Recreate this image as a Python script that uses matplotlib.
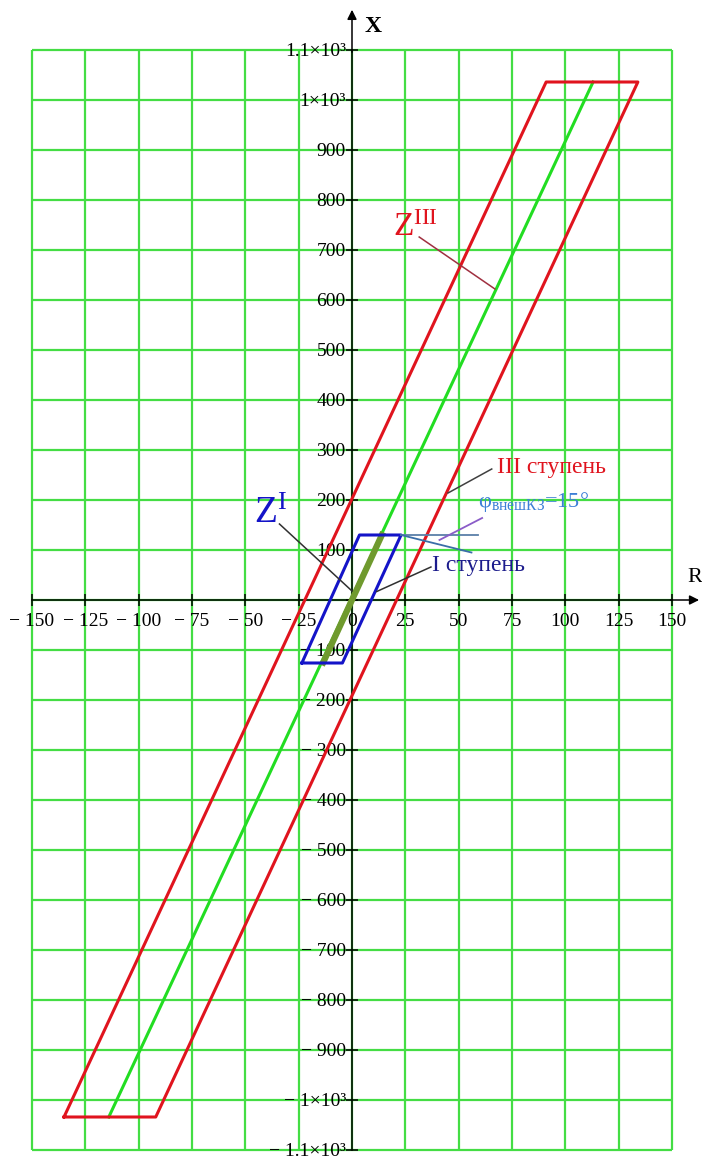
import matplotlib
matplotlib.use('Agg')
import matplotlib.pyplot as plt
from matplotlib.ticker import FixedLocator, FixedFormatter

plt.rcParams['font.family'] = ['Liberation Serif', 'DejaVu Serif']
plt.rcParams['mathtext.fontset'] = 'custom'
plt.rcParams['mathtext.rm'] = 'Liberation Serif'
plt.rcParams['mathtext.it'] = 'Liberation Serif:italic'

# axis ticks (R in ohm, X in ohm)
R_ticks = [-150, -125, -100, -75, -50, -25, 0, 25, 50, 75, 100, 125, 150]
R_labels = ['− 150', '− 125', '− 100', '− 75', '− 50', '− 25', '0',
            '25', '50', '75', '100', '125', '150']
X_ticks = [1100, 1000, 900, 800, 700, 600, 500, 400, 300, 200, 100, 0,
           -100, -200, -300, -400, -500, -600, -700, -800, -900, -1000, -1100]
X_labels = ['1.1×10³', '1×10³', '900', '800', '700', '600', '500', '400', '300',
            '200', '100', '', '− 100', '− 200', '− 300', '− 400', '− 500',
            '− 600', '− 700', '− 800', '− 900', '− 1×10³', '− 1.1×10³']

# zone III characteristic (corners)
zone3_R = [-135, -92, 134, 91, -135]
zone3_X = [-1034, -1034, 1036, 1036, -1034]
# protected line
line_R = [-114, 113]
line_X = [-1034, 1036]
# zone I characteristic
zone1_R = [-23.5, -4.5, 23, 3.5, -23.5]
zone1_X = [-126, -126, 130, 130, -126]
# line section inside zone I
sec_R = [-13.5, 14]
sec_X = [-125, 130]
# angle marker for external fault
phi_h_R = [23, 59]
phi_h_X = [130, 130]
phi_a_R = [23, 56]
phi_a_X = [130, 95]

fig = plt.figure(figsize=(7.02, 11.59), dpi=100)
ax = fig.add_axes([32 / 702, 1 - 1150 / 1159, 640 / 702, 1100 / 1159])
ax.set_xlim(-150, 150)
ax.set_ylim(-1100, 1100)

grid_c = '#44dd44'
ax.vlines(R_ticks, -1100, 1100, color=grid_c, lw=1.6, zorder=1, clip_on=False)
ax.hlines(X_ticks, -150, 150, color=grid_c, lw=1.6, zorder=1, clip_on=False)

for s in ['top', 'right']:
    ax.spines[s].set_visible(False)
for s in ['left', 'bottom']:
    ax.spines[s].set_position(('data', 0))
    ax.spines[s].set_color('black')
    ax.spines[s].set_linewidth(1.1)
    ax.spines[s].set_zorder(2)

ax.xaxis.set_major_locator(FixedLocator(R_ticks))
ax.xaxis.set_major_formatter(FixedFormatter(R_labels))
ax.yaxis.set_major_locator(FixedLocator(X_ticks))
ax.yaxis.set_major_formatter(FixedFormatter(X_labels))
ax.tick_params(direction='inout', length=9, width=1.1, color='black',
               labelsize=14, pad=0)
ax.tick_params(axis='x', pad=5)

# arrows on the axes
ax.annotate('', xy=(0, 1186), xytext=(0, 1090), xycoords='data',
            arrowprops=dict(arrowstyle='-|>', color='black', lw=1.1,
                            mutation_scale=14), annotation_clip=False)
ax.annotate('', xy=(164, 0), xytext=(148, 0), xycoords='data',
            arrowprops=dict(arrowstyle='-|>', color='black', lw=1.1,
                            mutation_scale=14), annotation_clip=False)
ax.text(6, 1146, 'X', fontsize=17, fontweight='bold', ha='left', va='center')
ax.text(157, 46, 'R', fontsize=16, ha='left', va='center')

red = '#e0141e'
blue = '#1414c8'
ax.plot(zone3_R, zone3_X, color=red, lw=2.2, zorder=4)
ax.plot(line_R, line_X, color='#22dd22', lw=2.2, zorder=3)
ax.plot(sec_R, sec_X, color='#6f9a2e', lw=4.5, zorder=4)
ax.plot(zone1_R, zone1_X, color=blue, lw=2.2, zorder=5)

ax.plot(phi_h_R, phi_h_X, color='#5a7fa8', lw=1.3, zorder=5)
ax.plot(phi_a_R, phi_a_X, color='#3a6ea8', lw=1.3, zorder=5)
ax.plot([41, 61], [120, 164], color='#8a5cc8', lw=1.3, zorder=5)

# labels with leaders
ax.plot([31.5, 67], [726, 622], color='#a03040', lw=1.1, zorder=5)
ax.text(19, 745, r'Z$^{\rm III}$', color=red, fontsize=24, ha='left', va='center')

ax.plot([65.5, 45], [262, 214], color='#404040', lw=1.1, zorder=5)
ax.text(68, 264, 'III ступень', color=red, fontsize=17, ha='left', va='center')

ax.text(59, 196, r'φ$_{\rm внешКЗ}$=15°', color='#3c7fd6', fontsize=16,
        ha='left', va='center')

ax.plot([-34, 0], [152, 18], color='#303030', lw=1.1, zorder=5)
ax.text(-46, 172, r'Z$^{\rm I}$', color=blue, fontsize=27, ha='left', va='center')

ax.plot([37, 11.6], [66, 17], color='#303030', lw=1.1, zorder=5)
ax.text(37.5, 68, 'I ступень', color='#1c1c8c', fontsize=17, ha='left', va='center')

fig.savefig('out.png', dpi=100)
